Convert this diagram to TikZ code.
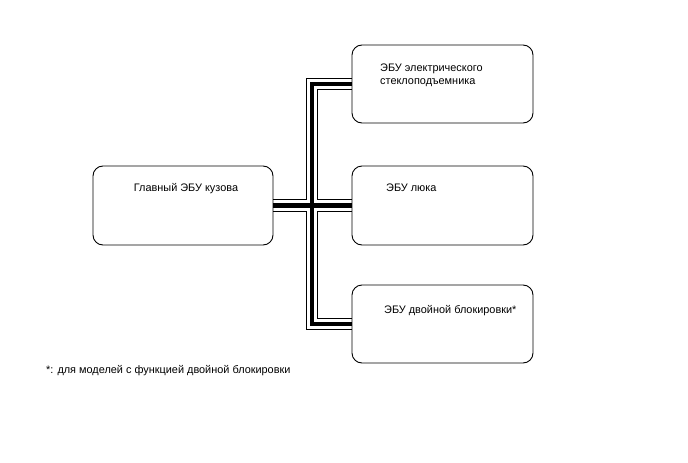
\documentclass[tikz,border=0pt]{standalone}
\usepackage{fontspec}
\setmainfont{Liberation Sans}
\usepackage{tikz}
\usetikzlibrary{positioning, calc, backgrounds}

\begin{document}
\begin{tikzpicture}[
    x=1pt, y=-1pt,
    ecubox/.style={draw=black, rounded corners=10pt, line width=0.9pt, minimum width=181pt, inner sep=0pt},
    lbl/.style={inner sep=0pt, font=\fontsize{10.9}{13}\selectfont, align=left},
    bus/.style={line width=4.5pt, draw=black, line join=miter,
        preaction={draw=black, line width=12.5pt},
        preaction={draw=white, line width=10.5pt}}
]
\useasboundingbox (0,0) rectangle (688,463);

% ECU boxes
\node[ecubox, minimum width=180pt, minimum height=79pt] (main) at (183,205.5) {};
\node[ecubox, minimum height=78pt] (top) at (442.5,84) {};
\node[ecubox, minimum height=79pt] (mid) at (442.5,205.5) {};
\node[ecubox, minimum height=78pt] (bot) at (442.5,324) {};

% Labels
\node[lbl, anchor=base] (mainTxt) at (186,191.5) {Главный ЭБУ кузова};
\node[lbl, anchor=base west] (topTxt) at (380,84.5) {ЭБУ электрического\\стеклоподъемника};
\node[lbl, anchor=base west] (midTxt) at (386,191.5) {ЭБУ люка};
\node[lbl, anchor=base west] (botTxt) at (384,313) {ЭБУ двойной блокировки*};
\node[lbl, anchor=base west] (note) at (46,373.5) {*: для моделей с функцией двойной блокировки};

% Bus
\coordinate (hub) at (312,205.5);
\begin{scope}[on background layer]
\draw[bus] (top.west) -| (hub) |- (bot.west)
           (main.east) -- (mid.west);
\end{scope}

\end{tikzpicture}
\end{document}
